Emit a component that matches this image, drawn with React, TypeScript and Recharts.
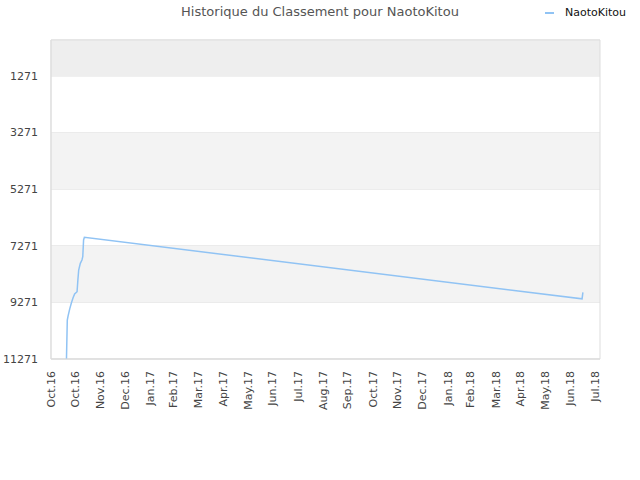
import React from 'react';
import { LineChart, Line, XAxis, YAxis, CartesianGrid, ReferenceArea } from 'recharts';

// axe des dates : début de l'axe puis fins de mois
const tickDates = [
  '2016-10-01', '2016-10-31', '2016-11-30', '2016-12-31', '2017-01-31', '2017-02-28',
  '2017-03-31', '2017-04-30', '2017-05-31', '2017-06-30', '2017-07-31', '2017-08-31',
  '2017-09-30', '2017-10-31', '2017-11-30', '2017-12-31', '2018-01-31', '2018-02-28',
  '2018-03-31', '2018-04-30', '2018-05-31', '2018-06-30', '2018-07-31',
];
const tickLabels = [
  'Oct.16', 'Oct.16', 'Nov.16', 'Dec.16', 'Jan.17', 'Feb.17', 'Mar.17', 'Apr.17',
  'May.17', 'Jun.17', 'Jul.17', 'Aug.17', 'Sep.17', 'Oct.17', 'Nov.17', 'Dec.17',
  'Jan.18', 'Feb.18', 'Mar.18', 'Apr.18', 'May.18', 'Jun.18', 'Jul.18',
];
const dateDomain = ['2016-10-01', '2018-08-06'];

// classement du joueur
const rankDates = [
  '2016-10-20', '2016-10-21', '2016-10-22', '2016-10-24', '2016-10-26', '2016-10-28',
  '2016-10-30', '2016-11-02', '2016-11-03', '2016-11-04', '2016-11-06', '2016-11-08',
  '2016-11-09', '2016-11-10', '2016-11-11', '2018-07-15', '2018-07-16',
];
const rankValues = [
  11271, 9900, 9750, 9500, 9290, 9116,
  8975, 8893, 8480, 8127, 7892, 7773,
  7657, 7066, 6971, 9146, 8914,
];

const rankTicks = [1271, 3271, 5271, 7271, 9271, 11271];
const rankDomain = [0, 11271];
// bandes grises du fond
const bands = [
  { y1: 0, y2: 1271, fill: '#eeeeee' },
  { y1: 3271, y2: 5271, fill: '#f3f3f3' },
  { y1: 7271, y2: 9271, fill: '#f3f3f3' },
];

const toTime = (d: string) => new Date(d).getTime();
const data = rankDates.map((d, i) => ({ t: toTime(d), rang: rankValues[i] }));
const xTicks = tickDates.map(toTime);
const xDomain = dateDomain.map(toTime);

const FONT = '"DejaVu Sans", Verdana, sans-serif';
const LINE_COLOR = '#90c3f4';

const DateTick = (props: any) => {
  const { x, y, payload } = props;
  const idx = xTicks.indexOf(payload.value);
  return (
    <text
      x={x}
      y={y}
      dy="0.35em"
      transform={`rotate(-90, ${x}, ${y})`}
      textAnchor="end"
      fontSize={11}
      fontFamily={FONT}
      fill="#444"
    >
      {tickLabels[idx]}
    </text>
  );
};

export default function App() {
  return (
    <div style={{ position: 'absolute', left: 0, top: 0, width: 640, height: 480, background: '#fff' }}>
      <div
        style={{
          position: 'absolute', top: 4, left: 0, width: 640, textAlign: 'center',
          fontFamily: FONT, fontSize: 13, color: '#555',
        }}
      >
        Historique du Classement pour NaotoKitou
      </div>
      {/* légende */}
      <div
        style={{
          position: 'absolute', top: 6, left: 545, display: 'flex', alignItems: 'center',
          fontFamily: FONT, fontSize: 11, color: '#111',
        }}
      >
        <span style={{ display: 'inline-block', width: 9, height: 2, background: LINE_COLOR, marginRight: 11 }} />
        NaotoKitou
      </div>
      <LineChart width={640} height={480} data={data} margin={{ top: 40, right: 40, bottom: 61, left: 0 }}>
        {bands.map((b, i) => (
          <ReferenceArea key={i} y1={b.y1} y2={b.y2} fill={b.fill} fillOpacity={1} stroke="none" />
        ))}
        <CartesianGrid vertical={false} stroke="#e0e0e0" strokeDasharray="" />
        <ReferenceArea
          x1={xDomain[0]}
          x2={xDomain[1]}
          y1={rankDomain[0]}
          y2={rankDomain[1]}
          fill="none"
          fillOpacity={0}
          stroke="#dddddd"
        />
        <XAxis
          dataKey="t"
          type="number"
          scale="time"
          domain={xDomain}
          ticks={xTicks}
          interval={0}
          height={60}
          tick={<DateTick />}
          tickLine={false}
          tickSize={0}
          tickMargin={12}
          axisLine={{ stroke: '#dddddd' }}
        />
        <YAxis
          type="number"
          reversed
          domain={rankDomain}
          ticks={rankTicks}
          interval={0}
          width={51}
          tickLine={false}
          tickSize={0}
          tickMargin={13}
          axisLine={{ stroke: '#dddddd' }}
          tick={{ fontSize: 11, fontFamily: FONT, fill: '#444' }}
        />
        <Line
          type="linear"
          dataKey="rang"
          stroke={LINE_COLOR}
          strokeWidth={1.5}
          dot={false}
          isAnimationActive={false}
        />
      </LineChart>
    </div>
  );
}
